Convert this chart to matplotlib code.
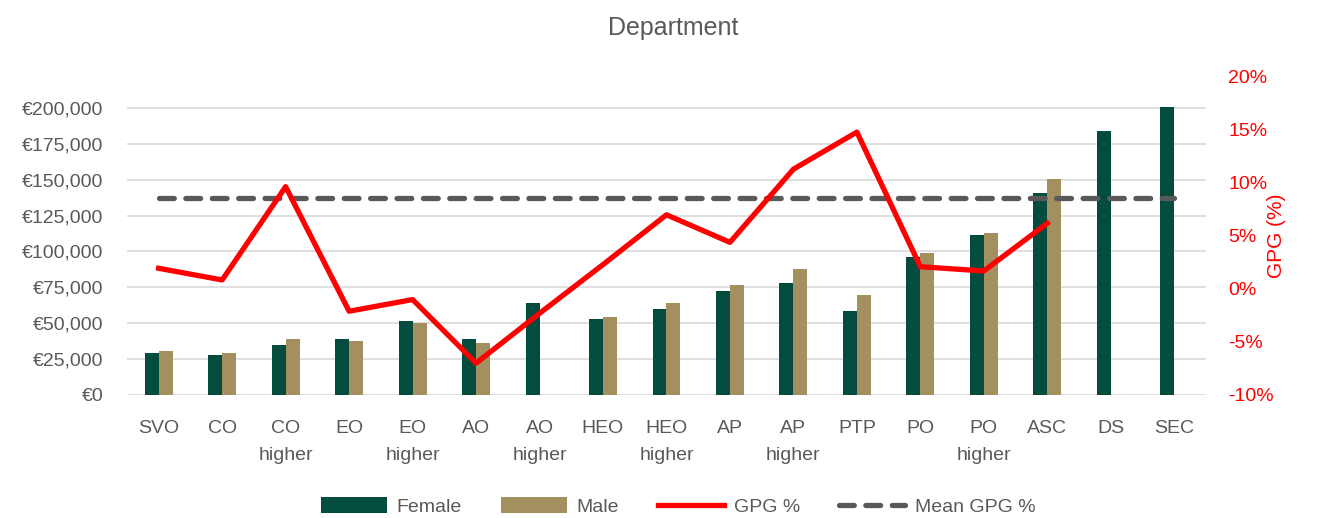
import matplotlib
matplotlib.use("Agg")
import matplotlib.pyplot as plt
import numpy as np
from matplotlib.ticker import FuncFormatter

categories = ["SVO", "CO", "CO\nhigher", "EO", "EO\nhigher", "AO", "AO\nhigher",
              "HEO", "HEO\nhigher", "AP", "AP\nhigher", "PTP", "PO", "PO\nhigher",
              "ASC", "DS", "SEC"]
female = [29000, 27600, 34800, 39000, 51800, 39000, 64300, 52900, 59900, 72700,
          78200, 58700, 96300, 111400, 140400, 183800, 200300]
male = [30600, 29000, 39000, 37600, 49900, 36000, np.nan, 54300, 64300, 76600,
        87700, 69600, 99100, 112600, 150400, np.nan, np.nan]
gpg = [1.95, 0.85, 9.65, -2.1, -1.0, -7.0, -2.3, 2.3, 7.0, 4.4, 11.3, 14.8,
       2.1, 1.7, 6.2, np.nan, np.nan]
mean_gpg = 8.6

plt.rcParams['font.family'] = ['Liberation Sans', 'DejaVu Sans']
grey = "#595959"
fs = 14

fig = plt.figure(figsize=(13.17, 5.18), dpi=100)
ax = fig.add_axes([0.0964, 0.2375, 0.8193, 0.6139])
x = np.arange(len(categories))
w = 0.22
ax.bar(x - w / 2, female, w, color="#044D3E", label="Female", zorder=3)
ax.bar(x + w / 2, male, w, color="#A38F5F", label="Male", zorder=3)
ax.set_xlim(-0.5, len(categories) - 0.5)
ax.set_ylim(0, 221500)
ax.set_yticks(np.arange(0, 200001, 25000))
ax.yaxis.set_major_formatter(FuncFormatter(lambda v, p: "€0" if v == 0 else f"€{int(v):,}"))
ax.grid(axis="y", color="#D9D9D9", linewidth=1.2, zorder=0)
ax.set_axisbelow(True)
for s in ax.spines.values():
    s.set_visible(False)
ax.tick_params(axis="both", length=0, colors=grey, labelsize=fs)
ax.tick_params(axis="y", pad=17)
ax.tick_params(axis="x", pad=18)
ax.set_xticks(x)
ax.set_xticklabels(categories, linespacing=1.75, va="top")

ax2 = ax.twinx()
ax2.plot(x, gpg, color="#FF0000", linewidth=3.8, label="GPG %", zorder=5)
ax2.plot(x, [mean_gpg] * len(x), color=grey, linewidth=3.8, linestyle=(0, (2.8, 2.2)),
         label="Mean GPG %", zorder=4, dash_capstyle="round")
ax2.set_ylim(-10, 20)
ax2.set_yticks(np.arange(-10, 21, 5))
ax2.yaxis.set_major_formatter(FuncFormatter(lambda v, p: f"{int(v)}%"))
ax2.tick_params(axis="y", length=0, colors="#FF0000", labelsize=fs, pad=16)
for s in ax2.spines.values():
    s.set_visible(False)
ax2.set_ylabel("GPG (%)", color="#FF0000", fontsize=15)
ax2.yaxis.set_label_coords(1.0 + (1267 - 1206) / 1079, 0.5)

fig.text(0.511, 0.945, "Department", ha="center", va="center", fontsize=18, color=grey)

h1, l1 = ax.get_legend_handles_labels()
h2, l2 = ax2.get_legend_handles_labels()
fig.legend(h1 + h2, l1 + l2, loc="center", bbox_to_anchor=(0.515, 0.022), ncol=4,
           frameon=False, fontsize=fs, labelcolor=grey, handlelength=3.4,
           columnspacing=2.0, handletextpad=0.5, handleheight=0.9)

fig.savefig("out.png", dpi=100)
